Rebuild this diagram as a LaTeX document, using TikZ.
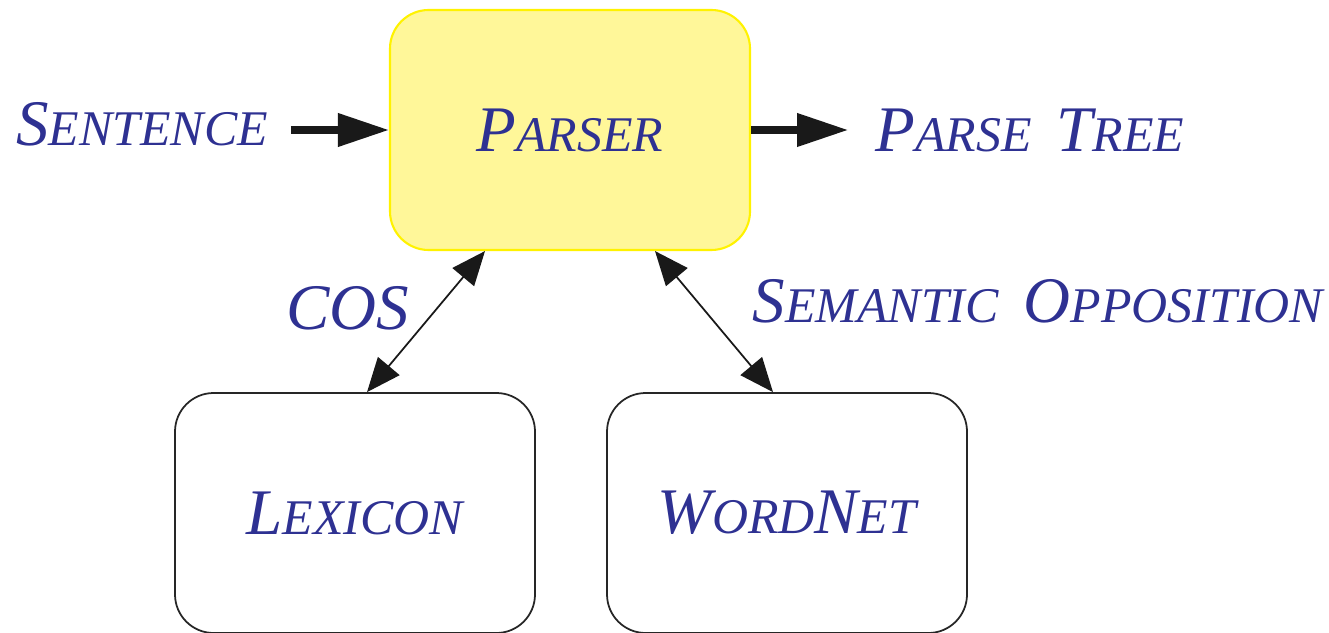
\documentclass[tikz,border=0pt]{standalone}
\usepackage{fontspec}
\setmainfont{Liberation Serif}
\usepackage{tikz}
\usetikzlibrary{calc}
\usetikzlibrary{arrows.meta}
\usepackage{xcolor}
\definecolor{ink}{RGB}{46,49,146}
\definecolor{paleyellow}{RGB}{255,247,153}
\definecolor{edgeyellow}{RGB}{255,242,0}
\newcommand{\smcap}[2]{{\fontsize{18.5}{22}\selectfont #1}{\fontsize{14.2}{17}\selectfont #2}}
\newcommand{\wsp}{\hspace{2.5mm}}

\begin{document}
\begin{tikzpicture}[
	p/.style = {rectangle, rounded corners=11pt, draw=edgeyellow, fill=paleyellow, line width=0.6pt, minimum width=3.6cm, minimum height=2.4cm, text=ink, font=\itshape},
	d/.style = {rectangle, rounded corners=11pt, draw=black!85, line width=0.5pt, minimum width=3.6cm, minimum height=2.4cm, text=ink, font=\itshape},
	t/.style = {text=ink, font=\itshape},
	b/.style = {-{Triangle[length=0.51cm, width=0.32cm]}, line width=2pt, draw=black!90},
	l/.style = {{Triangle[length=0.34cm, width=0.28cm]}-{Triangle[length=0.34cm, width=0.28cm]}, line width=0.5pt, draw=black!90}
	]
	\useasboundingbox (0, 0) rectangle (13.29, 6.32);
	
	%Nodes
	\node[p]	(parser)	at	(5.70, 5.02)	{\smcap{P}{ARSER}};
	\node[d]	(lexicon)	at	(3.55, 1.19)	{\smcap{L}{EXICON}};
	\node[d]	(wordnet)	at	(7.87, 1.19)	{\smcap{W}{ORD}\smcap{N}{ET}};
	
	\node[t]	(sentence)	at	(1.42, 5.08)	{\smcap{S}{ENTENCE}};
	\node[t]	(tree)		at	(10.30, 5.02)	{\smcap{P}{ARSE}\wsp\smcap{T}{REE}};
	\node[t]	(cos)		at	(3.48, 3.24)	{\fontsize{18.5}{22}\selectfont COS};
	\node[t]	(semopp)	at	(10.38, 3.31)	{\smcap{S}{EMANTIC}\wsp\smcap{O}{PPOSITION}};
	
	%Lines
	\draw[b, shorten <=3pt]	(sentence.east |- parser.west)	--	(parser.west);
	\draw[b, shorten >=4.3pt]	(parser.east)	--	(tree.west |- parser.east);
	\draw[l]	($(parser.south)+(-0.85, 0)$)	--	($(lexicon.north)+(0.12, 0)$);
	\draw[l]	($(parser.south)+(0.85, 0)$)	--	($(wordnet.north)+(-0.14, 0)$);
	
\end{tikzpicture}
\end{document}
